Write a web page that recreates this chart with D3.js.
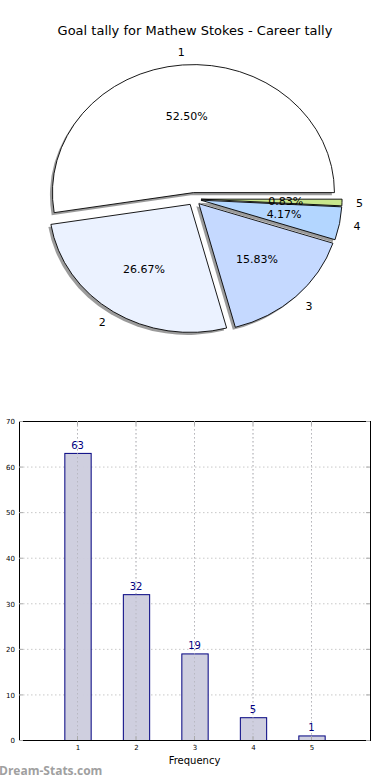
<!DOCTYPE html>
<html><head><meta charset="utf-8">
<script src="https://cdn.jsdelivr.net/npm/d3@7"></script>
<style>body{margin:0;background:#fff}svg{display:block;font-family:"DejaVu Sans",sans-serif}</style>
</head><body><svg id="c" width="390" height="780"></svg>
<script>
const categories = ["1","2","3","4","5"];
const values = [63, 32, 19, 5, 1];
const sliceColors = ["#ffffff","#ebf2ff","#c5d9ff","#b3d6ff","#c8e68c"];
const yTicks = [0,10,20,30,40,50,60,70];
const title = "Goal tally for Mathew Stokes - Career tally";

const svg = d3.select("#c");
svg.append("text").attr("x",195).attr("y",35).attr("text-anchor","middle")
  .attr("font-size",13).attr("fill","#000").text(title);

// Pie
const total = d3.sum(values);
const cx = 194, cy = 199, r = 141, sy = 0.908, expl = 0.05*r;
const pie = d3.pie().sort(null).startAngle(0).endAngle(2*Math.PI).value(d=>d);
const arcs = pie(values);
// d3 angles: clockwise from 12 o'clock. We want CCW from 3 o'clock => mirror: use angle a (math) -> d3 angle = PI/2 - a
const arcGen = d3.arc().innerRadius(0).outerRadius(r);
const g = svg.append("g").attr("transform",`translate(${cx},${cy}) scale(1,${sy})`);
const items = arcs.map((a,i)=>{
  const m0 = a.startAngle, m1 = a.endAngle; // math angles
  const mid = (m0+m1)/2;
  return {i, s: Math.PI/2 - m1, e: Math.PI/2 - m0, mid, v: a.value};
});
const shadowG = g.append("g");
items.forEach(d=>{
  const ox = expl*Math.cos(d.mid), oy = -expl*Math.sin(d.mid);
  shadowG.append("path").attr("d", arcGen({startAngle:d.s,endAngle:d.e}))
    .attr("transform",`translate(${ox-2.5},${oy+2.8})`)
    .attr("fill","#7a7a7a").attr("opacity",0.75);
});
items.forEach(d=>{
  const ox = expl*Math.cos(d.mid), oy = -expl*Math.sin(d.mid);
  g.append("path").attr("d", arcGen({startAngle:d.s,endAngle:d.e}))
    .attr("transform",`translate(${ox},${oy})`)
    .attr("fill",sliceColors[d.i]).attr("stroke","#000").attr("stroke-width",0.9)
    .attr("vector-effect","non-scaling-stroke").attr("stroke-linejoin","round");
});
items.forEach(d=>{
  const c = Math.cos(d.mid), s = Math.sin(d.mid);
  const lx = cx + (expl + 1.1*r)*c, ly = cy - (expl + 1.1*r)*s*sy;
  svg.append("text").attr("x",lx).attr("y",ly).attr("dy","0.35em")
    .attr("text-anchor", Math.abs(c)<0.1 ? "middle" : (c>0?"start":"end"))
    .attr("font-size",11).text(categories[d.i]);
  const px = cx + (expl + 0.6*r)*c, py = cy - (expl + 0.6*r)*s*sy;
  svg.append("text").attr("x",px).attr("y",py).attr("dy","0.35em")
    .attr("text-anchor","middle").attr("font-size",11)
    .text((d.v/total*100).toFixed(2)+"%");
});

// Bar chart
const L=19, R=370, T=421, B=740;
const x = d3.scaleLinear().domain([0,6]).range([L,R]);
const y = d3.scaleLinear().domain([0,70]).range([B,T]);
const xTickVals = categories.map(Number);
const bg = svg.append("g");
// grid
bg.selectAll(".gy").data(yTicks.slice(1,-1)).join("line")
  .attr("x1",L).attr("x2",R).attr("y1",d=>y(d)+0.5).attr("y2",d=>y(d)+0.5)
  .attr("stroke","#c8c8c8").attr("stroke-dasharray","1.5,2.5");
bg.selectAll(".gx").data(xTickVals).join("line")
  .attr("x1",d=>x(d)).attr("x2",d=>x(d)).attr("y1",T).attr("y2",B)
  .attr("stroke","#c8c8c8").attr("stroke-dasharray","1.5,2.5");
// bars
const bw = x(0.45)-x(0);
bg.selectAll(".bar").data(values).join("rect")
  .attr("x",(d,i)=>x(xTickVals[i])-bw/2+0.5).attr("y",d=>y(d)+0.5)
  .attr("width",bw).attr("height",d=>B-y(d))
  .attr("fill","#ccccdd").attr("fill-opacity",0.95).attr("stroke","#000080").attr("stroke-width",1);
// gridlines over bars (matplotlib grid on top faintly)
bg.selectAll(".gx2").data(xTickVals).join("line")
  .attr("x1",d=>x(d)).attr("x2",d=>x(d)).attr("y1",T).attr("y2",B)
  .attr("stroke","#b0b0b8").attr("stroke-dasharray","1.5,2.5").attr("opacity",0.7);
bg.selectAll(".vl").data(values).join("text")
  .attr("x",(d,i)=>x(xTickVals[i])).attr("y",d=>y(d)-4)
  .attr("text-anchor","middle").attr("font-size",10).attr("fill","#000080").text(d=>d);
// frame
bg.append("rect").attr("x",L+0.5).attr("y",T+0.5).attr("width",R-L).attr("height",B-T)
  .attr("fill","none").attr("stroke","#000").attr("stroke-width",1);
// axes
const yAxis = d3.axisLeft(y).tickValues(yTicks).tickSize(0).tickPadding(4);
bg.append("g").attr("transform",`translate(${L},0.5)`).call(yAxis)
  .call(a=>a.select(".domain").remove())
  .selectAll("text").attr("font-size",7).attr("font-family","DejaVu Sans");
const xAxis = d3.axisBottom(x).tickValues(xTickVals).tickFormat(d3.format("d")).tickSize(0).tickPadding(5);
bg.append("g").attr("transform",`translate(0,${B})`).call(xAxis)
  .call(a=>a.select(".domain").remove())
  .selectAll("text").attr("font-size",7).attr("font-family","DejaVu Sans");
// tick marks inside (top/bottom/left/right)
xTickVals.forEach(v=>{
  bg.append("line").attr("x1",x(v)).attr("x2",x(v)).attr("y1",T).attr("y2",T+4).attr("stroke","#aaa");
  bg.append("line").attr("x1",x(v)).attr("x2",x(v)).attr("y1",B).attr("y2",B-4).attr("stroke","#aaa");
});
yTicks.forEach(v=>{
  bg.append("line").attr("x1",L).attr("x2",L+4).attr("y1",y(v)+0.5).attr("y2",y(v)+0.5).attr("stroke","#aaa");
  bg.append("line").attr("x1",R).attr("x2",R-4).attr("y1",y(v)+0.5).attr("y2",y(v)+0.5).attr("stroke","#aaa");
});
svg.append("text").attr("x",x(3)).attr("y",764).attr("text-anchor","middle")
  .attr("font-size",10).text("Frequency");
svg.append("text").attr("x",-1).attr("y",775).attr("font-size",12).attr("font-weight","bold")
  .attr("fill","#a0a0a0").attr("font-family","'Open Sans','DejaVu Sans',sans-serif").text("Dream-Stats.com");
</script></body></html>
